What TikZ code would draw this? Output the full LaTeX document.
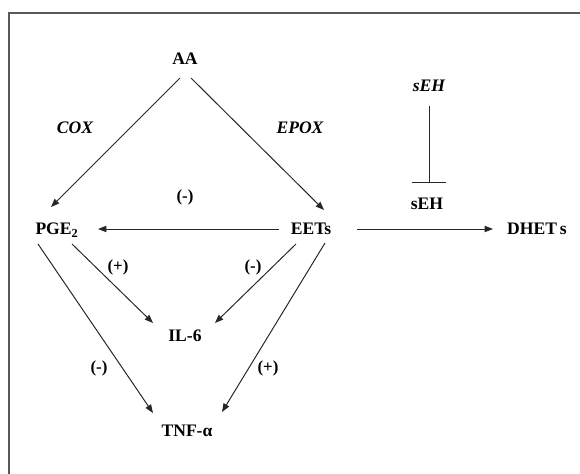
\documentclass[tikz,border=0pt]{standalone}
\usepackage{fontspec}
\setmainfont{Liberation Serif}
\usetikzlibrary{arrows.meta}
\newcommand{\mol}[3]{\node[mol] at (#1) (#2) {#3}}

\begin{document}
\begin{tikzpicture}[x=0.025cm,y=-0.025cm,
		mol/.style={font=\fontsize{12.5}{14}\selectfont\bfseries,inner sep=0pt,text height=8pt,text depth=0pt},
		lab/.style={mol,font=\fontsize{12}{14}\selectfont\bfseries},
		enz/.style={mol,font=\fontsize{12.5}{14}\selectfont\bfseries\itshape},
		arr/.style={black!85,line width=0.7pt,-{Triangle[length=6pt,width=4.5pt]}},
		inh/.style={black!85,line width=0.7pt,-{Bar[width=24pt]}}]
					\useasboundingbox (0,0) rectangle (580,474);
					\draw[black!65,line width=1.2pt] (9,474) -- (9,13) -- (580,13);
					
					\mol{185,59}{AA}{AA};
					\mol{57,229}{PGE2}{PGE\textsubscript{2}};
					\mol{311,229}{EETs}{EETs};
					\mol{537,229}{DHETs}{DHET\,s};
					\mol{185,336}{IL6}{IL-6};
					\mol{187,431}{TNF}{TNF-α};
					\mol{427,204}{sEH}{sEH};
					
					\node[enz] at (75,128) (cox) {COX};
					\node[enz] at (300,128) (epox) {EPOX};
					\node[enz] at (429,86) (sEHtop) {sEH};
					
					\node[lab] at (185,196) (m1) {(-)};
					\node[lab] at (118,266) (p1) {(+)};
					\node[lab] at (253,266) (m2) {(-)};
					\node[lab] at (99,367) (m3) {(-)};
					\node[lab] at (268,367) (p2) {(+)};
					
					\draw[arr] ([shift={(-5,19)}]AA.center) -- ([shift={(-6,-22)}]PGE2.center);
					\draw[arr] ([shift={(6,19)}]AA.center) -- ([shift={(13,-19)}]EETs.center);
					\draw[arr] ([shift={(-32,0)}]EETs.center) -- ([shift={(41,0)}]PGE2.center);
					\draw[arr] ([shift={(46,0)}]EETs.center) -- ([shift={(-44,0)}]DHETs.center);
					\draw[inh] ([shift={(0,20)}]sEHtop.center) -- ([shift={(2,-21)}]sEH.center);
					
					\draw[arr] ([shift={(15,15)}]PGE2.center) -- ([shift={(-32,-13)}]IL6.center);
					\draw[arr] ([shift={(-19,15)}]PGE2.center) -- ([shift={(-34,-18)}]TNF.center);
					\draw[arr] ([shift={(-15,15)}]EETs.center) -- ([shift={(30,-13)}]IL6.center);
					\draw[arr] ([shift={(14,14)}]EETs.center) -- ([shift={(35,-19)}]TNF.center);
				\end{tikzpicture}
\end{document}
